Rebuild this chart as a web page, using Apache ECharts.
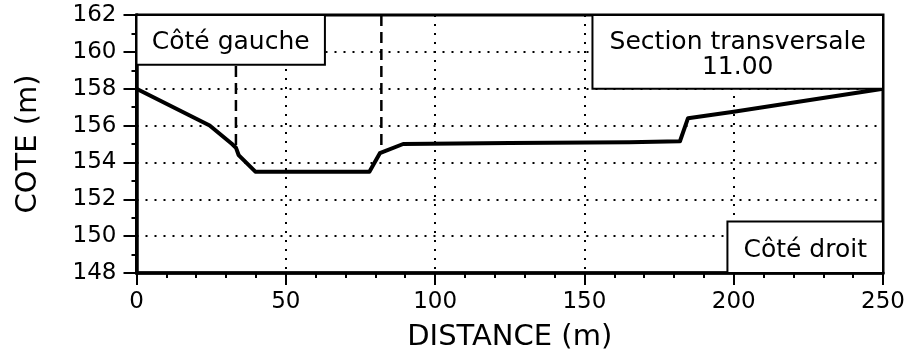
<!DOCTYPE html>
<html>
<head>
<meta charset="utf-8">
<title>Section transversale 11.00</title>
<script src="https://cdn.jsdelivr.net/npm/echarts@6/dist/echarts.min.js"></script>
<style>
  html, body { margin: 0; padding: 0; background: #fff; }
  #chart { width: 909px; height: 364px; }
</style>
</head>
<body>
<div id="chart"></div>
<script>
// Cross-section profile: distance from left bank (m) and ground elevation (m)
const distance = [0, 24.5, 32, 33.3, 34.2, 39.8, 78, 81.5, 82, 89.3, 125, 165, 182, 184.7, 200, 250];
const cote     = [158, 156, 155, 154.8, 154.4, 153.5, 153.5, 154.5, 154.6, 155.0, 155.05, 155.1, 155.15, 156.4, 156.75, 158];

// Bank stations (dashed verticals): position and foot elevation
const bankDistance = [33.3, 82];
const bankFoot = [154.8, 154.6];

// Axis ranges and ticks
const xMin = 0, xMax = 250, xStep = 50;
const yMin = 148, yMax = 162, yStep = 2;

// Annotation boxes: [x0, y0, x1, y1] in data units, with their captions
const leftBox  = { x0: 0, y0: 159.3, x1: 63.1, y1: 162, text: 'Côté gauche' };
const titleBox = { x0: 152.7, y0: 158, x1: 250, y1: 162, text: 'Section transversale\n11.00' };
const rightBox = { x0: 197.9, y0: 148, x1: 250, y1: 150.8, text: 'Côté droit' };

const FONT = "'DejaVu Sans', 'Liberation Sans', sans-serif";

const profile = distance.map((d, i) => [d, cote[i]]);

const bankSeries = bankDistance.map((d, i) => ({
  type: 'line',
  z: 2,
  silent: true,
  symbol: 'none',
  data: [[d, yMax], [d, bankFoot[i]]],
  lineStyle: { color: '#000', width: 2.5, type: [11, 6] }
}));

function boxArea(b) {
  return [
    {
      coord: [b.x0, b.y1],
      label: {
        show: true,
        position: 'inside',
        offset: [0, 3],
        formatter: b.text,
        color: '#000',
        fontFamily: FONT,
        fontSize: 25,
        lineHeight: 25,
        align: 'center',
        verticalAlign: 'middle'
      }
    },
    { coord: [b.x1, b.y0] }
  ];
}

const chart = echarts.init(document.getElementById('chart'), null, { renderer: 'canvas' });

chart.setOption({
  animation: false,
  backgroundColor: '#fff',
  grid: {
    left: 136.5, right: 26, top: 15, bottom: 91,
    show: true, borderColor: '#000', borderWidth: 3, backgroundColor: 'transparent'
  },
  xAxis: {
    type: 'value',
    min: xMin, max: xMax, interval: xStep,
    name: 'DISTANCE (m)',
    nameLocation: 'middle',
    nameGap: 50,
    nameTextStyle: { color: '#000', fontFamily: FONT, fontSize: 29 },
    axisLine: { show: true, onZero: false, lineStyle: { color: '#000', width: 3.5 } },
    axisTick: { show: true, inside: false, length: 12, lineStyle: { color: '#000', width: 2 } },
    minorTick: { show: true, splitNumber: 5, length: 5, lineStyle: { color: '#000', width: 2 } },
    axisLabel: { color: '#000', fontFamily: FONT, fontSize: 23, margin: 18 },
    splitLine: { show: true, lineStyle: { color: '#000', width: 2, type: [2, 7] } }
  },
  yAxis: {
    type: 'value',
    min: yMin, max: yMax, interval: yStep,
    name: 'COTE (m)',
    nameLocation: 'middle',
    nameGap: 94,
    nameTextStyle: { color: '#000', fontFamily: FONT, fontSize: 29 },
    axisLine: { show: true, onZero: false, lineStyle: { color: '#000', width: 3.5 } },
    axisTick: { show: true, inside: false, length: 13, lineStyle: { color: '#000', width: 2 } },
    minorTick: { show: true, splitNumber: 2, length: 5, lineStyle: { color: '#000', width: 2 } },
    axisLabel: { color: '#000', fontFamily: FONT, fontSize: 23, margin: 20 },
    splitLine: { show: true, lineStyle: { color: '#000', width: 2, type: [2, 7] } }
  },
  series: [
    ...bankSeries,
    {
      type: 'line',
      z: 3,
      silent: true,
      symbol: 'none',
      data: profile,
      lineStyle: { color: '#000', width: 4, join: 'round' }
    },
    {
      // caption boxes drawn above grid lines and bank markers
      type: 'line',
      z: 10,
      silent: true,
      symbol: 'none',
      data: [],
      markArea: {
        silent: true,
        z: 10,
        itemStyle: { color: '#fff', opacity: 1, borderColor: '#000', borderWidth: 2 },
        data: [boxArea(leftBox), boxArea(titleBox), boxArea(rightBox)]
      }
    }
  ]
});
</script>
</body>
</html>
